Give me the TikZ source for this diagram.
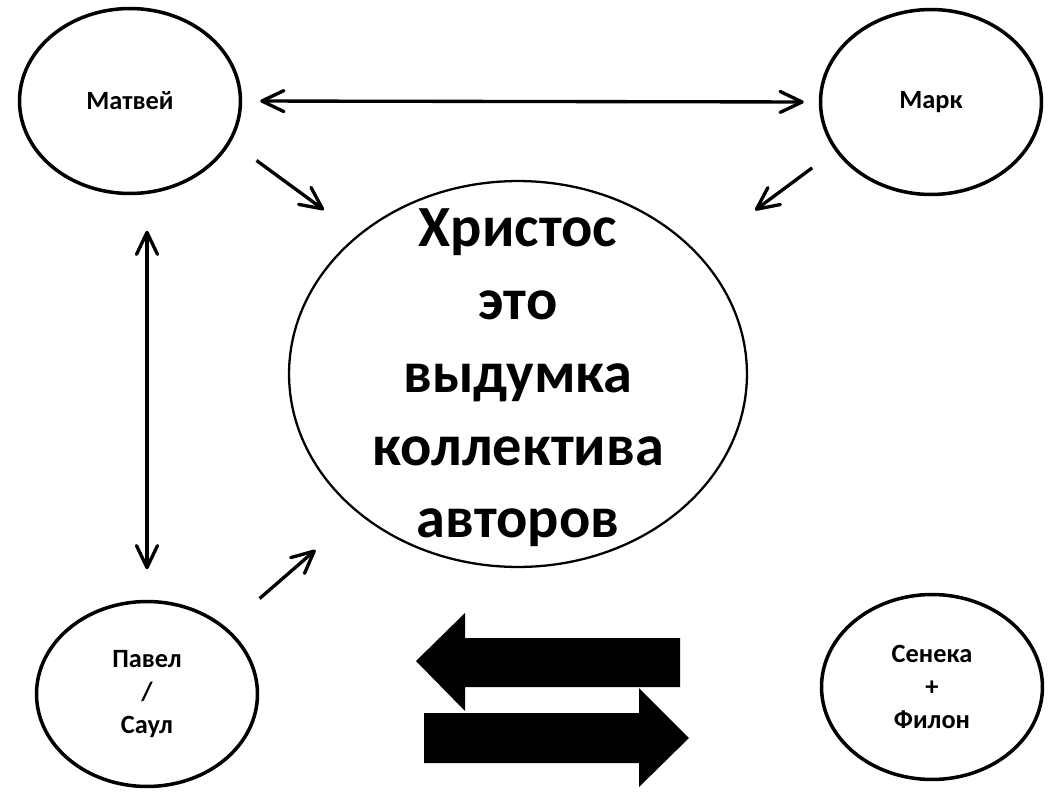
\documentclass[tikz,border=0pt]{standalone}
\usepackage{fontspec}
\setmainfont{Carlito}
\usetikzlibrary{shapes.geometric, arrows.meta, positioning, calc}

\begin{document}
\begin{tikzpicture}[
    x=0.02cm, y=-0.02cm,
    person/.style={draw, ellipse, line width=2pt, inner sep=0pt, minimum width=4.42cm, minimum height=3.7cm, align=center, font=\bfseries\fontsize{15}{19}\selectfont},
    bigoval/.style={draw, ellipse, line width=1.3pt, minimum width=9.16cm, minimum height=7.72cm},
    bigtext/.style={align=center, font=\bfseries\fontsize{33.2}{41.4}\selectfont},
    arrow/.style={line width=1.9pt, -{Straight Barb[length=4.4mm, width=4.2mm, round]}},
    twoway/.style={line width=1.9pt, {Straight Barb[length=4.4mm, width=4.2mm, round]}-{Straight Barb[length=4.4mm, width=4.2mm, round]}}
]
\useasboundingbox (0,0) rectangle (1063,798);

\node (mat) [person] at (130,101) {Матвей};
\node (mark) [person] at (931,102) {Марк};
\node (pav) [person] at (147,694) {Павел\\/\\Саул};
\node (sen) [person] at (932,687) {Сенека\\+\\Филон};
\node (christ) [bigoval] at (518,374) {};
\node (christtext) [bigtext] at (518,378) {Христос\\это\\выдумка\\коллектива\\авторов};

\draw [twoway, shorten <=0.36cm, shorten >=0.3cm] (mat.0) -- (mark.180);
\draw [twoway, shorten <=0.71cm, shorten >=0.61cm] (pav.north |- mat.south) -- (pav.north);
\draw [arrow, shorten <=0.63cm, shorten >=0.84cm] (mat.-22) -- (christ.139);
\draw [arrow, shorten <=0.57cm, shorten >=1.43cm] (mark.-153) -- (christ.34);
\draw [arrow, shorten <=0.88cm, shorten >=1.12cm] (pav.40) -- (christ.221);

% block arrows
\fill (416,661) -- (465,613) -- (465,638) -- (680,638) -- (680,687) -- (465,687) -- (465,711) -- cycle;
\fill (689,738) -- (639,688) -- (639,713) -- (424,713) -- (424,763) -- (639,763) -- (639,787) -- cycle;
\end{tikzpicture}
\end{document}
